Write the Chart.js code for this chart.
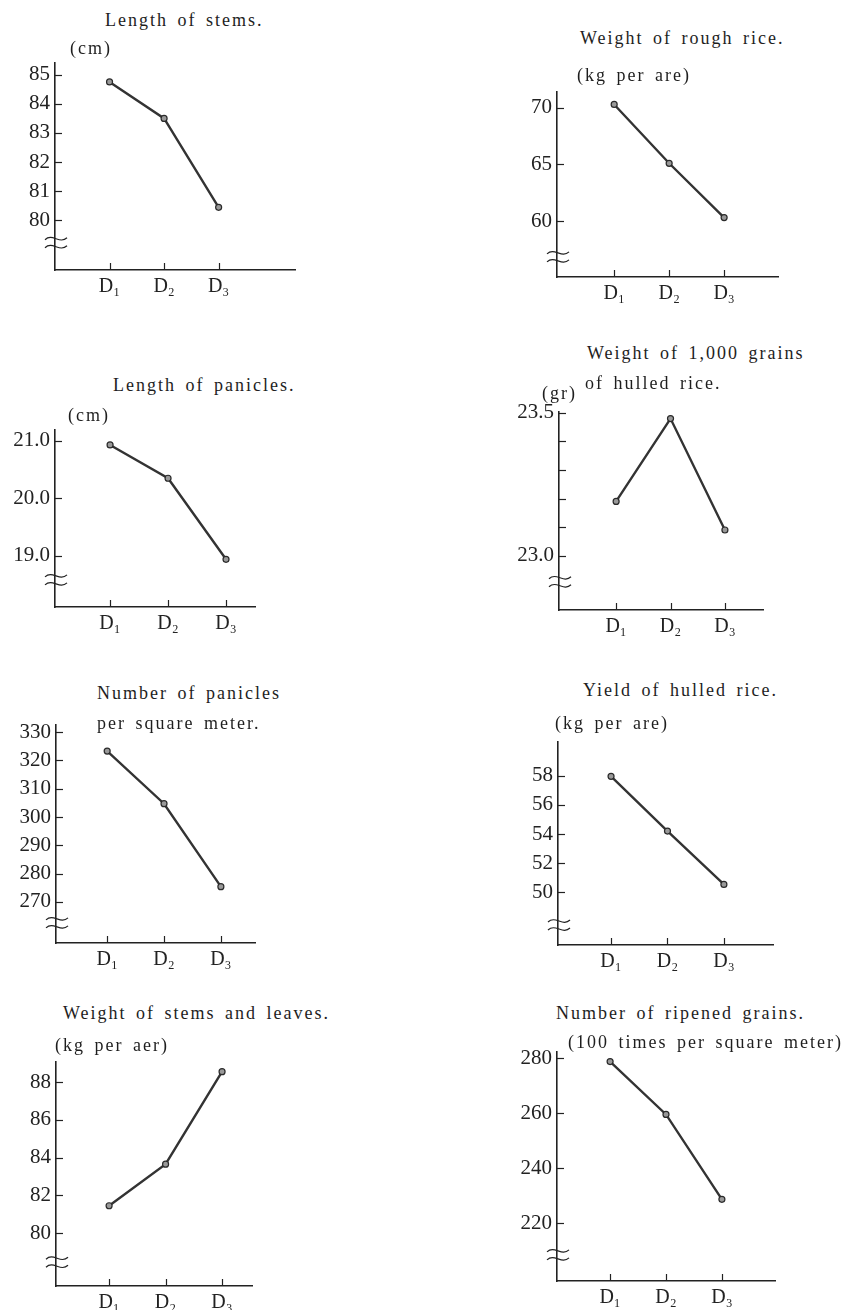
<!DOCTYPE html>
<html>
<head>
<meta charset="utf-8">
<title>Growth and yield by planting density</title>
<script src="https://cdn.jsdelivr.net/npm/chart.js@4.4.1/dist/chart.umd.min.js"></script>
<style>
  body { margin: 0; background: #fff; }
  #page { position: relative; width: 863px; height: 1310px; overflow: hidden; }
  #page canvas { position: absolute; }
  .lbl {
    position: absolute;
    font-family: 'Liberation Serif', 'DejaVu Serif', serif;
    font-size: 18px;
    line-height: 20px;
    letter-spacing: 2px;
    word-spacing: 3px;
    color: #1e1e1e;
    white-space: nowrap;
  }
</style>
</head>
<body>
<div id="page"></div>
<script>
const doses = ['D₁', 'D₂', 'D₃'];

const stemLength = [84.75, 83.5, 80.45];
const stemLengthTicks = [80, 81, 82, 83, 84, 85];

const roughRice = [70.3, 65.1, 60.3];
const roughRiceTicks = [60, 65, 70];

const panicleLength = [20.93, 20.35, 18.94];
const panicleLengthTicks = [19, 20, 21];

const grainWeight = [23.19, 23.48, 23.09];
const grainWeightTicks = [23.0, 23.1, 23.2, 23.3, 23.4, 23.5];
const grainWeightLabelled = [23.0, 23.5];

const panicleCount = [323.3, 304.7, 275.4];
const panicleCountTicks = [270, 280, 290, 300, 310, 320, 330];

const hulledYield = [57.95, 54.2, 50.55];
const hulledYieldTicks = [50, 52, 54, 56, 58];

const stemLeafWeight = [81.45, 83.65, 88.55];
const stemLeafWeightTicks = [80, 82, 84, 86, 88];

const ripenedGrains = [278.7, 259.5, 228.6];
const ripenedGrainsTicks = [220, 240, 260, 280];

const INK = '#222';
const SERIF = "'Liberation Serif', 'DejaVu Serif', serif";

// axis box = where the drawn axes sit on the page
const panels = [
  { values: stemLength, ticks: stemLengthTicks, decimals: 0,
    axis: { x: 55, top: 63, bottom: 270, right: 295 }, xRange: [0, 4.4], yRange: [78.3, 85.4], brk: 0.45,
    texts: [['Length of stems.', 105, 20], ['(cm)', 70, 48]] },
  { values: roughRice, ticks: roughRiceTicks, decimals: 0,
    axis: { x: 557, top: 92, bottom: 277, right: 778 }, xRange: [-0.04, 3.98], yRange: [55.05, 71.4], brk: 0.64,
    texts: [['Weight of rough rice.', 580, 38], ['(kg per are)', 577, 75]] },
  { values: panicleLength, ticks: panicleLengthTicks, decimals: 1,
    axis: { x: 55, top: 430, bottom: 607, right: 255 }, xRange: [0.05, 3.5], yRange: [18.11, 21.19], brk: 0.47,
    texts: [['Length of panicles.', 113, 385], ['(cm)', 68, 415]] },
  { values: grainWeight, ticks: grainWeightTicks, decimals: 1, labelled: grainWeightLabelled,
    axis: { x: 559, top: 412, bottom: 610, right: 763 }, xRange: [-0.05, 3.7], yRange: [22.81, 23.503], brk: 0.48,
    texts: [['Weight of 1,000 grains', 587, 353], ['of hulled rice.', 585, 383], ['(gr)', 542, 393]] },
  { values: panicleCount, ticks: panicleCountTicks, decimals: 0,
    axis: { x: 56, top: 725, bottom: 943, right: 255 }, xRange: [0.1, 3.6], yRange: [255.5, 332.5], brk: 0.51,
    texts: [['Number of panicles', 97, 693], ['per square meter.', 97, 723]] },
  { values: hulledYield, ticks: hulledYieldTicks, decimals: 0,
    axis: { x: 558, top: 742, bottom: 945, right: 773 }, xRange: [0.06, 3.87], yRange: [46.4, 60.3], brk: 0.62,
    texts: [['Yield of hulled rice.', 583, 690], ['(kg per are)', 555, 723]] },
  { values: stemLeafWeight, ticks: stemLeafWeightTicks, decimals: 0,
    axis: { x: 56, top: 1062, bottom: 1286, right: 252 }, xRange: [0.06, 3.53], yRange: [77.2, 89.06], brk: 0.55,
    texts: [['Weight of stems and leaves.', 63, 1013], ['(kg per aer)', 55, 1045]] },
  { values: ripenedGrains, ticks: ripenedGrainsTicks, decimals: 0,
    axis: { x: 557, top: 1052, bottom: 1281, right: 775 }, xRange: [0.05, 3.95], yRange: [198.9, 282.2], brk: 0.55,
    texts: [['Number of ripened grains.', 556, 1013], ['(100 times per square meter)', 568, 1042]] }
];

const Y_W = 50, X_H = 40, PAD_T = 20, PAD_R = 10;

// ticks drawn inward + the ≈ break mark on the y axis
const axisMarks = {
  id: 'axisMarks',
  afterDraw(chart, args, opts) {
    const { ctx, chartArea, scales: { x, y } } = chart;
    ctx.save();
    ctx.strokeStyle = INK;
    ctx.lineWidth = 1.2;
    y.ticks.forEach(t => {
      const py = Math.round(y.getPixelForValue(t.value)) + 0.5;
      ctx.beginPath();
      ctx.moveTo(chartArea.left, py);
      ctx.lineTo(chartArea.left + 7, py);
      ctx.stroke();
    });
    x.ticks.forEach(t => {
      const px = Math.round(x.getPixelForValue(t.value)) + 0.5;
      ctx.beginPath();
      ctx.moveTo(px, chartArea.bottom);
      ctx.lineTo(px, chartArea.bottom - 7);
      ctx.stroke();
    });
    const py0 = y.getPixelForValue(y.ticks[0].value);
    const pb = py0 + (chartArea.bottom - py0) * opts.brk;
    const x0 = chartArea.left - 10, w = 22;
    [-4, 4].forEach(dy => {
      ctx.beginPath();
      ctx.moveTo(x0, pb + dy + 1);
      ctx.bezierCurveTo(x0 + w / 3, pb + dy - 6, x0 + 2 * w / 3, pb + dy + 6, x0 + w, pb + dy - 1);
      ctx.stroke();
    });
    ctx.restore();
  }
};

const page = document.getElementById('page');

panels.forEach(p => {
  const left = p.axis.x - Y_W;
  const top = p.axis.top - PAD_T;
  const width = p.axis.right + PAD_R - left;
  const height = p.axis.bottom + X_H - top;

  const canvas = document.createElement('canvas');
  canvas.width = width;
  canvas.height = height;
  canvas.style.left = left + 'px';
  canvas.style.top = top + 'px';
  canvas.style.width = width + 'px';
  canvas.style.height = height + 'px';
  page.appendChild(canvas);

  p.texts.forEach(([txt, tx, ty]) => {
    const d = document.createElement('div');
    d.className = 'lbl';
    d.textContent = txt;
    d.style.left = tx + 'px';
    d.style.top = (ty - 10) + 'px';
    page.appendChild(d);
  });

  new Chart(canvas, {
    type: 'line',
    data: {
      datasets: [{
        data: p.values.map((v, i) => ({ x: i + 1, y: v })),
        borderColor: '#333',
        borderWidth: 2.4,
        pointRadius: 3,
        pointBackgroundColor: '#999',
        pointBorderColor: '#2a2a2a',
        pointBorderWidth: 1.2,
        tension: 0,
        clip: false
      }]
    },
    plugins: [axisMarks],
    options: {
      responsive: false,
      animation: false,
      events: [],
      layout: { padding: { top: PAD_T, right: PAD_R, left: 0, bottom: 0 } },
      plugins: {
        legend: { display: false },
        tooltip: { enabled: false },
        axisMarks: { brk: p.brk }
      },
      scales: {
        x: {
          type: 'linear',
          min: p.xRange[0],
          max: p.xRange[1],
          afterBuildTicks: s => { s.ticks = doses.map((d, i) => ({ value: i + 1 })); },
          afterFit: s => { s.height = X_H; },
          grid: { display: false, drawTicks: false },
          border: { display: true, color: INK, width: 1.6 },
          ticks: {
            padding: 5,
            color: INK,
            font: { family: SERIF, size: 20 },
            callback: v => doses[Math.round(v) - 1] || ''
          }
        },
        y: {
          min: p.yRange[0],
          max: p.yRange[1],
          afterBuildTicks: s => { s.ticks = p.ticks.map(v => ({ value: v })); },
          afterFit: s => { s.width = Y_W; },
          grid: { display: false, drawTicks: false },
          border: { display: true, color: INK, width: 1.6 },
          ticks: {
            padding: 5,
            color: INK,
            font: { family: SERIF, size: 21 },
            callback: v => {
              if (p.labelled && !p.labelled.some(l => Math.abs(l - v) < 1e-6)) return '';
              return v.toFixed(p.decimals);
            }
          }
        }
      }
    }
  });
});
</script>
</body>
</html>
